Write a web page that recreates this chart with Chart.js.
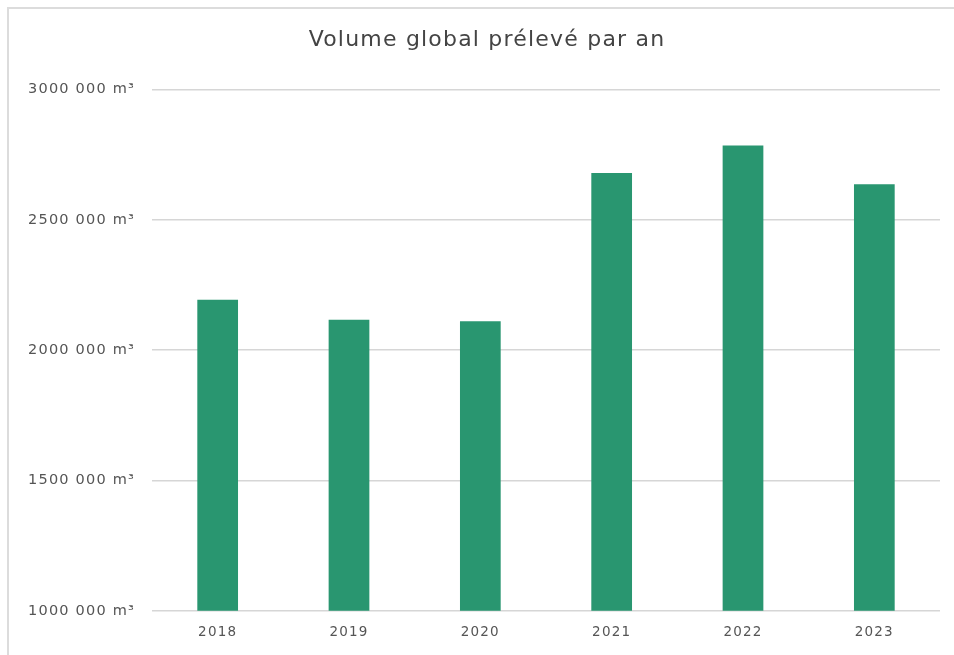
<!DOCTYPE html>
<html>
<head>
<meta charset="utf-8">
<script src="https://cdn.jsdelivr.net/npm/chart.js@4"></script>
<style>
    body { margin: 0; background: #fff; overflow: hidden; }
    #frame {
        position: absolute; left: 7px; top: 7px; width: 980px; height: 680px;
        border: 2px solid #dcdcdc;
    }
    #wrap { position: absolute; left: 0; top: 0; width: 954px; height: 655px; }
</style>
</head>
<body>
<div id="frame"></div>
<div id="wrap"><canvas id="volumeChart" width="954" height="655"></canvas></div>
<script>
// Data
const years = ['2018', '2019', '2020', '2021', '2022', '2023'];
const volumes = [2193000, 2116000, 2111000, 2679000, 2785000, 2636000];

const yMin = 1000000;
const yMax = 3000000;
const yStep = 500000;

// "3000 000 m³" style labels
function formatVolume(v) {
    return Math.floor(v / 1000) + ' 000 m³';
}

// the original font is wide and a bit spaced out
// (set it again each time, resizing the canvas resets the context)
const letterSpacing = {
    id: 'letterSpacing',
    beforeUpdate: function (chart) { chart.ctx.letterSpacing = '1.2px'; },
    beforeDraw: function (chart) { chart.ctx.letterSpacing = '1.2px'; },
    // title sits a bit right of the canvas centre in the original
    afterLayout: function (chart) {
        if (chart.titleBlock) chart.titleBlock.left = 34;
    }
};

const ctx = document.getElementById('volumeChart').getContext('2d');

const volumeChart = new Chart(ctx, {
    type: 'bar',
    data: {
        labels: years,
        datasets: [{
            label: 'Volume prélevé',
            data: volumes,
            backgroundColor: '#299670',
            categoryPercentage: 1,
            barPercentage: 0.31
        }]
    },
    plugins: [letterSpacing],
    options: {
        responsive: false,
        animation: false,
        layout: {
            padding: { left: 0, right: 14, top: 0, bottom: 0 }
        },
        plugins: {
            legend: { display: false },
            tooltip: { enabled: false },
            title: {
                display: true,
                text: 'Volume global prélevé par an',
                color: '#444',
                font: { family: 'DejaVu Sans', size: 22, weight: 'normal' },
                padding: { top: 27, bottom: 36 }
            }
        },
        scales: {
            x: {
                grid: { display: false, drawTicks: false },
                border: { display: false },
                ticks: {
                    color: '#555',
                    font: { family: 'DejaVu Sans', size: 13.5 },
                    padding: 14
                }
            },
            y: {
                min: yMin,
                max: yMax,
                afterFit: function (scale) { scale.width = 152; },
                border: { display: false },
                grid: { color: '#d6d6d6', lineWidth: 1.5, drawTicks: false },
                ticks: {
                    stepSize: yStep,
                    color: '#555',
                    font: { family: 'DejaVu Sans', size: 14.5 },
                    padding: 17,
                    callback: function (value) { return formatVolume(value); }
                }
            }
        }
    }
});
</script>
</body>
</html>
